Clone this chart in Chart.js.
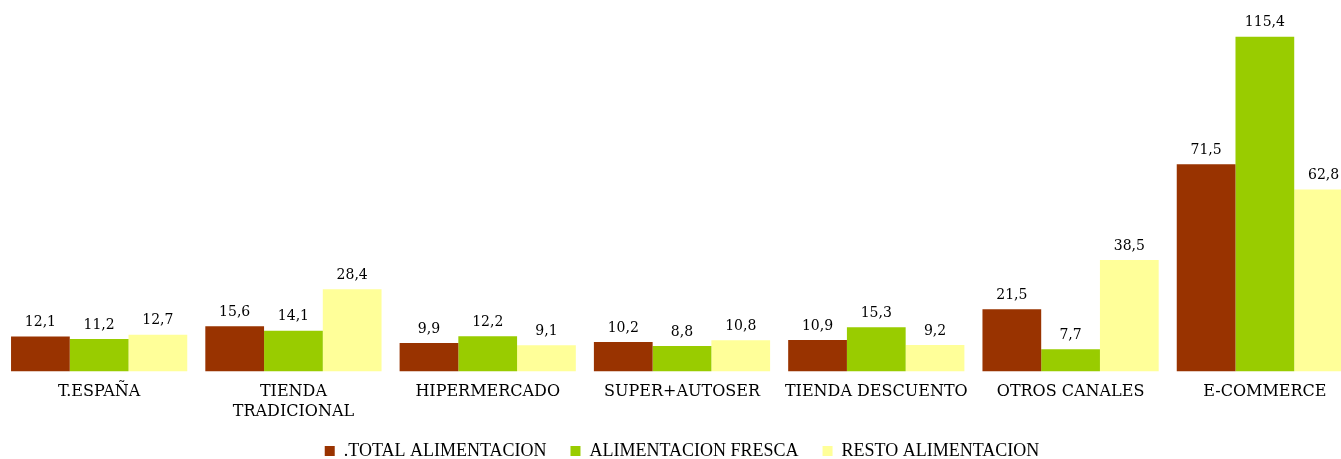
<!DOCTYPE html>
<html><head><meta charset="utf-8">
<script src="https://cdn.jsdelivr.net/npm/chart.js@4/dist/chart.umd.min.js"></script>
<style>html,body{margin:0;padding:0;overflow:hidden;background:#fff;width:1341px;height:459px}canvas{display:block}</style>
</head><body>
<canvas id="c" width="1362" height="470"></canvas>
<script>
const categories = ["T.ESPAÑA", ["TIENDA","TRADICIONAL"], "HIPERMERCADO", "SUPER+AUTOSER", "TIENDA DESCUENTO", "OTROS CANALES", "E-COMMERCE"];
const totalAlimentacion = [12.1, 15.6, 9.9, 10.2, 10.9, 21.5, 71.5];
const alimentacionFresca = [11.2, 14.1, 12.2, 8.8, 15.3, 7.7, 115.4];
const restoAlimentacion = [12.7, 28.4, 9.1, 10.8, 9.2, 38.5, 62.8];
const seriesNames = [".TOTAL ALIMENTACION", "ALIMENTACION FRESCA", "RESTO ALIMENTACION"];
const colors = ["#993300", "#99CC00", "#FFFF99"];

const serif = "'DejaVu Serif', 'Liberation Serif', serif";
const labelPlugin = {
  id: 'vals',
  afterDatasetsDraw(chart) {
    const ctx = chart.ctx;
    ctx.save();
    ctx.font = "14px " + serif;
    ctx.fillStyle = "#000";
    ctx.textAlign = "center";
    ctx.textBaseline = "bottom";
    chart.data.datasets.forEach((ds, i) => {
      chart.getDatasetMeta(i).data.forEach((bar, j) => {
        ctx.fillText(ds.data[j].toFixed(1).replace('.', ','), bar.x, bar.y - 7);
      });
    });
    ctx.restore();
  }
};

new Chart(document.getElementById('c'), {
  type: 'bar',
  data: {
    labels: categories,
    datasets: [
      {label: seriesNames[0], data: totalAlimentacion, backgroundColor: colors[0]},
      {label: seriesNames[1], data: alimentacionFresca, backgroundColor: colors[1]},
      {label: seriesNames[2], data: restoAlimentacion, backgroundColor: colors[2]}
    ]
  },
  options: {
    responsive: false,
    animation: false,
    devicePixelRatio: 1,
    layout: {padding: {top: 9, left: 2, right: 0, bottom: 0}},
    datasets: {bar: {categoryPercentage: 0.907, barPercentage: 1.0}},
    scales: {
      x: {
        grid: {display: false, drawTicks: false},
        border: {display: false},
        ticks: {color: "#000", font: {family: serif, size: 16, lineHeight: 1.2}, padding: 11, maxRotation: 0, autoSkip: false},
        afterFit: s => { s.height -= 14; }
      },
      y: {display: false, min: 0, max: 125}
    },
    plugins: {
      legend: {
        position: 'bottom',
        labels: {color: "#000", font: {family: "'Liberation Serif', serif", size: 18}, boxWidth: 10, boxHeight: 10, padding: 24}
      },
      tooltip: {enabled: false}
    }
  },
  plugins: [labelPlugin]
});
</script>
</body></html>
